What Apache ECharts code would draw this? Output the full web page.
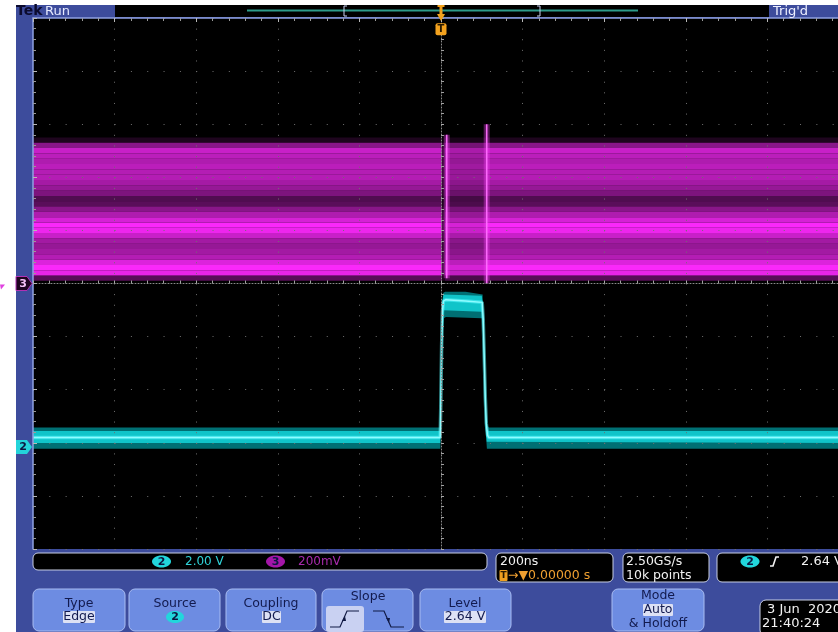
<!DOCTYPE html>
<html>
<head>
<meta charset="utf-8">
<script src="https://cdn.jsdelivr.net/npm/echarts@6/dist/echarts.min.js"></script>
<style>
  html, body { margin: 0; padding: 0; background: #ffffff; overflow: hidden; width: 838px; height: 632px; }
  #scope { width: 860px; height: 632px; }
</style>
</head>
<body>
<div id="scope"></div>
<script>
// ---- Horizontal: 200 ns/div, trigger point at 0 ns (screen centre) ----
const timeMin = -1000;
const timeMax = 1000;
const timePerDiv = 200;
const vDivHalf = 5;

// ---- Channel 2 (cyan): 2.00 V/div, ground marker 3.08 div below centre ----
const ch2VoltsPerDiv = 2.0;
const ch2Position = -3.08;
// bright centre of the persistence trace  [ns, V]
const ch2Core = [[-1000, 0.36], [-2, 0.36], [-0.5, 1.6], [1.5, 3.8], [3.5, 5.1], [6, 5.5], [12, 5.55], [60, 5.5],
  [101, 5.45], [103.5, 4.8], [106, 3.4], [108.5, 1.9], [111, 0.9], [114, 0.45], [117, 0.36], [1000, 0.36]];
// dense part of the trace
const ch2InnerUpper = [[-1000, 0.6], [-2.5, 0.6], [-1, 2.0], [1, 4.2], [3, 5.4], [6, 5.75], [100, 5.7],
  [103, 5.2], [105.5, 3.8], [108, 2.2], [110.5, 1.1], [113, 0.65], [116, 0.6], [1000, 0.6]];
const ch2InnerLower = [[-1000, 0.15], [-1.5, 0.15], [0, 1.4], [2, 3.5], [4, 4.8], [7, 5.15], [100, 5.1],
  [102.5, 4.5], [104.5, 3.4], [107, 1.8], [109.5, 0.7], [112, 0.2], [1000, 0.15]];
// faint outer envelope
const ch2OuterUpper = [[-1000, 0.74], [-3, 0.74], [-1.5, 2.0], [0.5, 4.0], [2.5, 5.3], [5, 5.8], [10, 5.85], [60, 5.85],
  [102, 5.75], [104, 5.0], [106, 3.8], [108.5, 2.3], [111, 1.2], [114, 0.8], [117, 0.74], [1000, 0.74]];
const ch2OuterLower = [[-1000, -0.06], [-1.5, -0.06], [0, 1.2], [2, 3.2], [4, 4.4], [7, 4.85], [12, 4.9], [100, 4.85],
  [101, 4.85], [103, 4.2], [105, 3.0], [107.5, 1.5], [110, 0.5], [112.5, -0.06], [1000, -0.06]];

// ---- Channel 3 (magenta): 200 mV/div, ground marker at centre ----
const ch3MvPerDiv = 200;
const ch3Position = 0;
const ch3RowHeightMv = 20;
const ch3LevelsMv = [540, 520, 500, 480, 460, 440, 420, 400, 380, 360, 340, 320, 300,
  280, 260, 240, 220, 200, 180, 160, 140, 120, 100, 80, 60, 40, 20];
const ch3Density = [0.12, 0.55, 0.8, 0.75, 0.7, 0.75, 0.72, 0.72, 0.66, 0.6, 0.5, 0.32, 0.36,
  0.55, 0.7, 0.85, 1.0, 0.95, 0.8, 0.65, 0.6, 0.65, 0.72, 0.88, 1.0, 0.92, 0.35];
// time windows [start ns, end ns, relative brightness]
const ch3Windows = [[-1000, 2, 1.0], [2, 10, 0.35], [10, 111, 0.85], [111, 1000, 1.0]];
// glitch spikes [ns, bottom mV, top mV]
const ch3Spikes = [[14, 20, 560], [112, 0, 600]];

const toDiv2 = v => v / ch2VoltsPerDiv + ch2Position;
const toDiv3 = mv => mv / ch3MvPerDiv + ch3Position;
const ch2Points = arr => arr.map(([t, v]) => [t, toDiv2(v)]);

const blue = '#3d4c9c';
const font = '"DejaVu Sans", sans-serif';

// magenta persistence rows
const stripeData = [];
ch3Windows.forEach(([t0, t1, gain]) => {
  ch3LevelsMv.forEach((mv, i) => {
    stripeData.push([t0, t1, toDiv3(mv - ch3RowHeightMv / 2), toDiv3(mv + ch3RowHeightMv / 2), ch3Density[i] * gain]);
  });
});

function envelopeSeries(upper, lower, fill) {
  return {
    type: 'custom', silent: true, clip: true, z: 2,
    data: [[0, 0]],
    renderItem: (params, api) => {
      const pts = ch2Points(upper).map(p => api.coord(p))
        .concat(ch2Points(lower).reverse().map(p => api.coord(p)));
      return { type: 'polygon', shape: { points: pts }, style: { fill: fill } };
    }
  };
}

const spikeSeries = [];
ch3Spikes.forEach(([t, lo, hi]) => {
  const d = [[t, toDiv3(lo)], [t, toDiv3(hi)]];
  spikeSeries.push({ type: 'line', data: d, showSymbol: false, silent: true, z: 2,
    lineStyle: { color: 'rgba(240,60,240,0.35)', width: 6 } });
  spikeSeries.push({ type: 'line', data: d, showSymbol: false, silent: true, z: 2,
    lineStyle: { color: 'rgba(255,110,255,0.95)', width: 1.6 } });
});

const chart = echarts.init(document.getElementById('scope'), null, { renderer: 'canvas', width: 860, height: 632 });

const axisBase = { type: 'value', min: timeMin, max: timeMax, interval: timePerDiv, axisLabel: { show: false } };
const yBase = { type: 'value', min: -vDivHalf, max: vDivHalf, interval: 1, axisLabel: { show: false } };

chart.setOption({
  animation: false,
  backgroundColor: 'transparent',
  grid: { left: 33, top: 18, width: 816, height: 531, show: true, backgroundColor: '#000000', borderWidth: 0 },
  xAxis: [
    Object.assign({}, axisBase, {
      position: 'bottom', z: 3,
      axisLine: { show: true, onZero: true, lineStyle: { color: '#8a8a8a', width: 1, type: [1, 2] } },
      axisTick: { show: true, inside: true, length: 3, lineStyle: { color: '#a8a8a8' } },
      minorTick: { show: true, splitNumber: 5, length: 3, lineStyle: { color: '#a0a0a0' } },
      splitLine: { show: true, lineStyle: { color: '#707070', width: 1, type: [1, 9.62] } }
    }),
    Object.assign({}, axisBase, {
      position: 'top', z: 3,
      axisLine: { show: true, onZero: false, lineStyle: { color: '#8ea0e2', width: 1.5 } },
      axisTick: { show: true, inside: true, length: 4, lineStyle: { color: '#b8b8b8' } },
      minorTick: { show: true, splitNumber: 5, length: 3, lineStyle: { color: '#9a9a9a' } },
      splitLine: { show: false }
    })
  ],
  yAxis: [
    Object.assign({}, yBase, {
      position: 'left', z: 3,
      axisLine: { show: true, onZero: true, lineStyle: { color: '#8a8a8a', width: 1, type: [1, 2] } },
      axisTick: { show: true, inside: true, length: 3, lineStyle: { color: '#a8a8a8' } },
      minorTick: { show: true, splitNumber: 5, length: 3, lineStyle: { color: '#a0a0a0' } },
      splitLine: { show: true, lineStyle: { color: '#707070', width: 1, type: [1, 15.32] } }
    }),
    Object.assign({}, yBase, {
      position: 'left', z: 3,
      axisLine: { show: true, onZero: false, lineStyle: { color: '#8ea0e2', width: 1.5 } },
      axisTick: { show: true, inside: true, length: 4, lineStyle: { color: '#b8b8b8' } },
      minorTick: { show: true, splitNumber: 5, length: 3, lineStyle: { color: '#9a9a9a' } },
      splitLine: { show: false }
    })
  ],
  series: [
    {
      type: 'custom', silent: true, clip: true, z: 1,
      data: stripeData,
      encode: { x: [0, 1], y: [2, 3] },
      renderItem: (params, api) => {
        const a = api.coord([api.value(0), api.value(3)]);
        const b = api.coord([api.value(1), api.value(2)]);
        return {
          type: 'rect',
          shape: { x: a[0], y: a[1], width: b[0] - a[0], height: b[1] - a[1] },
          style: { fill: 'rgba(250,40,250,' + api.value(4) + ')' }
        };
      }
    },
    ...spikeSeries,
    envelopeSeries(ch2OuterUpper, ch2OuterLower, 'rgba(0,185,192,0.6)'),
    envelopeSeries(ch2InnerUpper, ch2InnerLower, 'rgba(20,220,226,0.78)'),
    { type: 'line', data: ch2Points(ch2Core), showSymbol: false, silent: true, z: 2,
      lineStyle: { color: 'rgba(90,250,255,0.55)', width: 3.5 } },
    { type: 'line', data: ch2Points(ch2Core), showSymbol: false, silent: true, z: 2,
      lineStyle: { color: '#8ffcff', width: 1.4 } }
  ]
});

// ---- Instrument chrome: bezels, readouts and soft-key menu ----
const trigX = chart.convertToPixel({ xAxisIndex: 0 }, 0);
const ch3Y = chart.convertToPixel({ yAxisIndex: 0 }, ch3Position);
const ch2Y = chart.convertToPixel({ yAxisIndex: 0 }, ch2Position);
const tagY = chart.convertToPixel({ yAxisIndex: 0 }, 4.79);

function txt(text, x, y, fill, size, opts) {
  return { type: 'text', z: 20, style: {
    text: text, x: x, y: y, fill: fill, font: (opts && opts.bold ? 'bold ' : '') + size + 'px ' + font,
    textAlign: (opts && opts.align) || 'left', textVerticalAlign: 'middle'
  } };
}
function box(x, y, w, h, r, fill, stroke, z) {
  return { type: 'rect', z: z || 15, shape: { x: x, y: y, width: w, height: h, r: r },
    style: { fill: fill, stroke: stroke || null, lineWidth: stroke ? 1 : 0 } };
}
function badge(cx, cy, rx, ry, fill, label) {
  return [
    { type: 'ellipse', z: 18, shape: { cx: cx, cy: cy, rx: rx, ry: ry }, style: { fill: fill } },
    txt(label, cx, cy + 0.5, '#0c1640', 11, { bold: true, align: 'center' })
  ];
}
function button(x, w) {
  return { type: 'rect', z: 15, shape: { x: x, y: 589, width: w, height: 42, r: 6 },
    style: { fill: '#6d8ce2', stroke: '#a9bcf2', lineWidth: 1 } };
}
const btnText = '#121a4e';
const hiFill = '#dde1f4';

const chrome = [
  // bezel
  { type: 'rect', z: -100, shape: { x: 16, y: 5, width: 844, height: 627 }, style: { fill: blue } },
  // top status strip
  box(115, 5, 654, 12, 0, '#000000', null, 10),
  { type: 'line', z: 11, shape: { x1: 247, y1: 10.5, x2: 638, y2: 10.5 }, style: { stroke: '#2d9c8c', lineWidth: 2 } },
  { type: 'polyline', z: 11, shape: { points: [[347, 6], [344, 6], [344, 16], [347, 16]] }, style: { stroke: '#c9d2f2', lineWidth: 1, fill: null } },
  { type: 'polyline', z: 11, shape: { points: [[537, 6], [540, 6], [540, 16], [537, 16]] }, style: { stroke: '#c9d2f2', lineWidth: 1, fill: null } },
  txt('Tek', 16, 11.5, '#0b0b2e', 14, { bold: true }),
  txt('Run', 45, 11.5, '#e6eaff', 13),
  txt("Trig'd", 773, 11.5, '#eef0ff', 13),
  // trigger position on the record
  { type: 'rect', z: 12, shape: { x: trigX - 3.5, y: 5, width: 7, height: 2 }, style: { fill: '#f3a21e' } },
  { type: 'rect', z: 12, shape: { x: trigX - 1.5, y: 7, width: 3, height: 8 }, style: { fill: '#f3a21e' } },
  { type: 'polygon', z: 12, shape: { points: [[trigX - 4, 14], [trigX + 4, 14], [trigX, 21]] }, style: { fill: '#f3a21e' } },
  // trigger tag on screen
  { type: 'rect', z: 12, shape: { x: trigX - 5.5, y: tagY - 6, width: 11, height: 12, r: 2 }, style: { fill: '#f3a21e' } },
  txt('T', trigX, tagY + 0.5, '#2a1a00', 10, { bold: true, align: 'center' }),
  // channel ground markers
  { type: 'polygon', z: 12, shape: { points: [[16, ch3Y - 7], [27, ch3Y - 7], [32, ch3Y], [27, ch3Y + 7], [16, ch3Y + 7]] },
    style: { fill: '#1e0420', stroke: '#b030b4', lineWidth: 1 } },
  txt('3', 23, ch3Y + 0.5, '#f2c0f4', 11, { bold: true, align: 'center' }),
  { type: 'polygon', z: 12, shape: { points: [[16, ch2Y - 7], [27, ch2Y - 7], [32, ch2Y], [27, ch2Y + 7], [16, ch2Y + 7]] },
    style: { fill: '#24d4da' } },
  txt('2', 23, ch2Y + 0.5, '#0c1640', 11, { bold: true, align: 'center' }),
  { type: 'polygon', z: 12, shape: { points: [[0, ch3Y + 1], [5, ch3Y + 1], [1, ch3Y + 6]] }, style: { fill: '#e040e0' } },

  // vertical readout
  box(33, 553, 454, 17, 5, '#000000', '#c8cee4'),
  ...badge(161.5, 561.5, 9.5, 6, '#22d6dc', '2'),
  txt('2.00 V', 185, 562, '#2fd3d8', 12),
  ...badge(275.5, 561.5, 9.5, 6, '#a416a8', '3'),
  txt('200mV', 298, 562, '#a82aac', 12),
  // horizontal readout
  box(496, 553, 117, 29, 5, '#000000', '#c8cee4'),
  txt('200ns', 500, 561.5, '#f2f2f2', 12.5),
  { type: 'rect', z: 18, shape: { x: 499.5, y: 570, width: 8, height: 11, r: 1 }, style: { fill: '#f0a020' } },
  txt('T', 503.5, 575.5, '#2a1a00', 9, { bold: true, align: 'center' }),
  txt('\u2192\u25BC0.00000 s', 508, 576, '#f0a030', 12.5),
  // acquisition readout
  box(623, 553, 86, 29, 5, '#000000', '#c8cee4'),
  txt('2.50GS/s', 626, 561.5, '#f2f2f2', 12.5),
  txt('10k points', 626, 575.5, '#f2f2f2', 12.5),
  // trigger readout
  box(717, 553, 140, 29, 5, '#000000', '#c8cee4'),
  ...badge(750, 561.5, 9.5, 6, '#22d6dc', '2'),
  { type: 'polyline', z: 18, shape: { points: [[770, 566], [773, 566], [776, 557], [779, 557]] },
    style: { stroke: '#f2f2f2', lineWidth: 1.6, fill: null } },
  txt('2.64 V', 801, 562, '#f2f2f2', 13),

  // soft-key menu
  button(33, 92),
  txt('Type', 79, 604, btnText, 12.5, { align: 'center' }),
  box(63, 611, 32, 12, 1, hiFill, null, 16),
  txt('Edge', 79, 617, btnText, 12.5, { align: 'center' }),
  button(129, 91),
  txt('Source', 175, 604, btnText, 12.5, { align: 'center' }),
  ...badge(175, 617, 9, 6, '#22d6dc', '2'),
  button(226, 90),
  txt('Coupling', 271, 604, btnText, 12.5, { align: 'center' }),
  box(262, 611, 19, 12, 1, hiFill, null, 16),
  txt('DC', 271.5, 617, btnText, 12.5, { align: 'center' }),
  button(322, 91),
  txt('Slope', 368, 597, btnText, 12.5, { align: 'center' }),
  box(326, 606, 38, 26, 3, '#c9d1f2', null, 16),
  { type: 'polyline', z: 18, shape: { points: [[330, 627], [340, 627], [347, 611], [359, 611]] },
    style: { stroke: '#111a44', lineWidth: 1.2, fill: null } },
  { type: 'polygon', z: 18, shape: { points: [[342, 621], [346, 621], [345, 616]] }, style: { fill: '#111a44' } },
  { type: 'polyline', z: 18, shape: { points: [[373, 611], [384, 611], [391, 627], [404, 627]] },
    style: { stroke: '#111a44', lineWidth: 1.2, fill: null } },
  { type: 'polygon', z: 18, shape: { points: [[386, 618], [390, 618], [389, 623]] }, style: { fill: '#111a44' } },
  button(420, 91),
  txt('Level', 465, 604, btnText, 12.5, { align: 'center' }),
  box(444, 611, 42, 12, 1, hiFill, null, 16),
  txt('2.64 V', 465, 617, btnText, 12.5, { align: 'center' }),
  button(612, 92),
  txt('Mode', 658, 596, btnText, 12.5, { align: 'center' }),
  box(643, 604, 30, 12, 1, hiFill, null, 16),
  txt('Auto', 658, 610, btnText, 12.5, { align: 'center' }),
  txt('& Holdoff', 658, 624, btnText, 12.5, { align: 'center' }),
  // date / time
  box(760, 600, 110, 36, 6, '#000000', '#c8cee4'),
  txt('3 Jun  2020', 767, 610, '#f2f2f2', 13),
  txt('21:40:24', 762, 624, '#f2f2f2', 13)
];

chart.setOption({ graphic: { elements: chrome } });
</script>
</body>
</html>
